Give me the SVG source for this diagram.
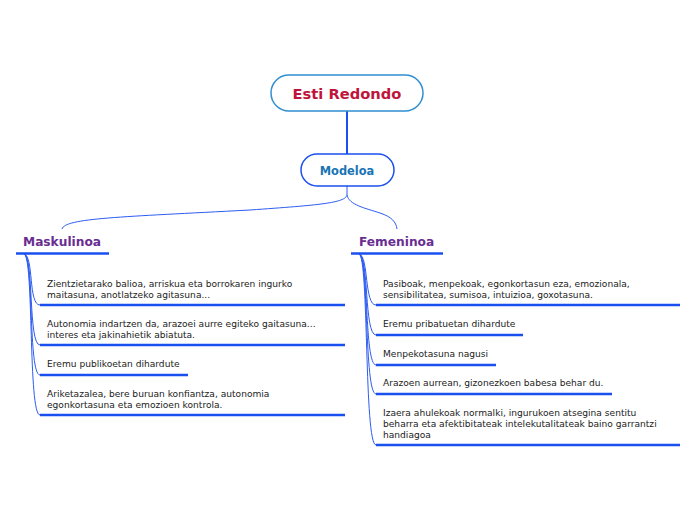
<svg xmlns="http://www.w3.org/2000/svg" width="696" height="520" viewBox="0 0 696 520">
<style>
.t{font-family:"DejaVu Sans",Verdana,sans-serif;font-size:9.1px;fill:#222}
.h{font-family:"DejaVu Sans",Verdana,sans-serif;font-size:12.2px;font-weight:bold;fill:#6a2d91}
.ul{stroke:#1a4ff0;stroke-width:2.5;fill:none}
.c{stroke:#2d5cf0;stroke-width:1;fill:none}
</style>
<rect width="696" height="520" fill="#fff"/>
<g id="connectors">
<path d="M347 111 L347 154" stroke="#1a4ff0" stroke-width="2" fill="none"/>
<path class="c" d="M347 186 L347 195 C345 203 320 205 250 210 C120 217 65 218 62 229"/>
<path class="c" d="M347 195 C349 205 365 208 380 213 C392 217 396 222 397 229"/>
<path class="c" d="M24 254 C34 256 28 305 40 305"/>
<path class="c" d="M24 254 C34 256 28 345 40 345"/>
<path class="c" d="M24 254 C34 256 28 375 40 375"/>
<path class="c" d="M24 254 C34 256 28 415 40 415"/>
<path class="c" d="M359 254 C369 256 364 305 376 305"/>
<path class="c" d="M359 254 C369 256 364 335 376 335"/>
<path class="c" d="M359 254 C369 256 364 365 376 365"/>
<path class="c" d="M359 254 C369 256 364 394 376 394"/>
<path class="c" d="M359 254 C369 256 364 445 376 445"/>
</g>
<g id="root">
<rect x="271" y="75" width="152" height="36" rx="18" fill="#fff" stroke="#2f8fd0" stroke-width="1.5"/>
<text x="347" y="99" text-anchor="middle" font-family="DejaVu Sans,Verdana,sans-serif" font-size="14.7" font-weight="bold" fill="#c0143c">Esti Redondo</text>
</g>
<g id="modeloa">
<rect x="301" y="154" width="93" height="32" rx="16" fill="#fff" stroke="#1a4ff0" stroke-width="1.5"/>
<text x="347" y="175" text-anchor="middle" font-family="DejaVu Sans,Verdana,sans-serif" font-size="11.4" font-weight="bold" fill="#1a75b5">Modeloa</text>
</g>
<g id="maskulinoa">
<text class="h" x="23" y="246">Maskulinoa</text>
<path class="ul" d="M16 253.5 H109"/>
</g>
<g id="femeninoa">
<text class="h" x="359" y="246">Femeninoa</text>
<path class="ul" d="M351 253.5 H443"/>
</g>
<g id="m1">
<text class="t" x="47" y="287">Zientzietarako balioa, arriskua eta borrokaren ingurko</text>
<text class="t" x="47" y="298">maitasuna, anotlatzeko agitasuna...</text>
<path class="ul" d="M40 305 H345"/>
</g>
<g id="m2">
<text class="t" x="47" y="327">Autonomia indartzen da, arazoei aurre egiteko gaitasuna...</text>
<text class="t" x="47" y="338">interes eta jakinahietik abiatuta.</text>
<path class="ul" d="M40 345 H345"/>
</g>
<g id="m3">
<text class="t" x="47" y="367">Eremu publikoetan dihardute</text>
<path class="ul" d="M40 375 H188"/>
</g>
<g id="m4">
<text class="t" x="47" y="397">Ariketazalea, bere buruan konfiantza, autonomia</text>
<text class="t" x="47" y="408">egonkortasuna eta emozioen kontrola.</text>
<path class="ul" d="M40 415 H345"/>
</g>
<g id="f1">
<text class="t" x="383" y="287">Pasiboak, menpekoak, egonkortasun eza, emozionala,</text>
<text class="t" x="383" y="298">sensibilitatea, sumisoa, intuizioa, goxotasuna.</text>
<path class="ul" d="M376 305 H680"/>
</g>
<g id="f2">
<text class="t" x="383" y="327">Eremu pribatuetan dihardute</text>
<path class="ul" d="M376 335 H523"/>
</g>
<g id="f3">
<text class="t" x="383" y="357">Menpekotasuna nagusi</text>
<path class="ul" d="M376 365 H496"/>
</g>
<g id="f4">
<text class="t" x="383" y="386">Arazoen aurrean, gizonezkoen babesa behar du.</text>
<path class="ul" d="M376 394 H612"/>
</g>
<g id="f5">
<text class="t" x="383" y="416">Izaera ahulekoak normalki, ingurukoen atsegina sentitu</text>
<text class="t" x="383" y="427">beharra eta afektibitateak intelekutalitateak baino garrantzi</text>
<text class="t" x="383" y="438">handiagoa</text>
<path class="ul" d="M376 445 H680"/>
</g>
</svg>
